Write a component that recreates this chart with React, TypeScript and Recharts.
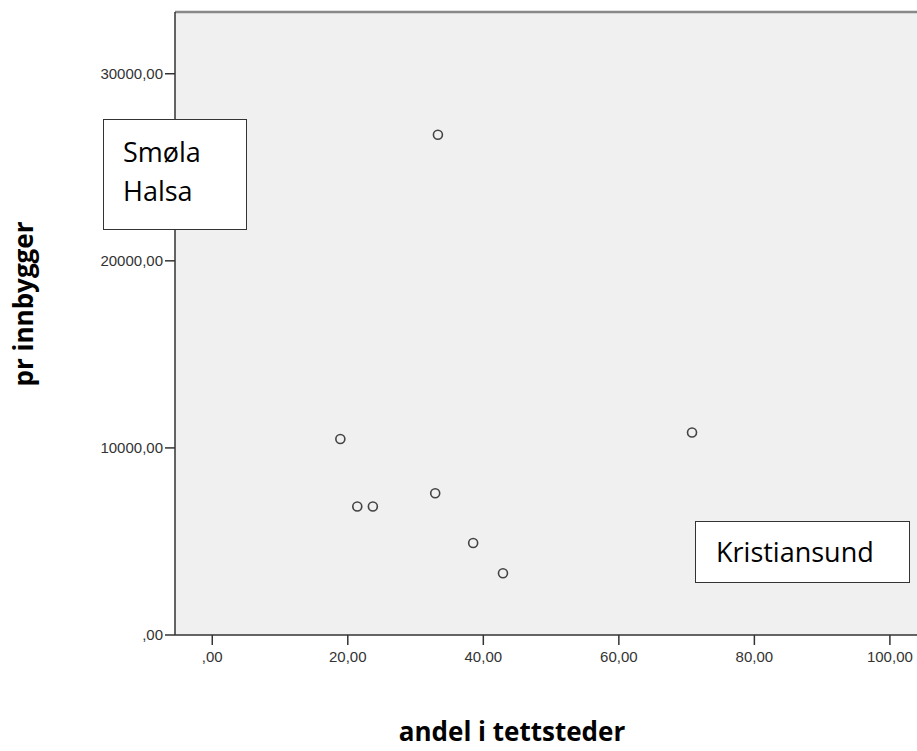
import { CartesianGrid, Label, ReferenceLine, Scatter, ScatterChart, XAxis, YAxis } from "recharts";

// andel i tettsteder (%) and pr innbygger for each kommune
const andel = [18.9, 21.4, 23.7, 32.9, 33.3, 38.5, 42.9, 70.8];
const prInnbygger = [10480, 6870, 6870, 7580, 26740, 4920, 3300, 10820];

const xTicks = [0, 20, 40, 60, 80, 100];
const yTicks = [0, 10000, 20000, 30000];

const points = andel.map((x, i) => ({ x, y: prInnbygger[i] }));

const fmt = (v: number) => (v === 0 ? ",00" : `${v},00`);

const tickStyle = { fontFamily: "Liberation Sans, Arial, sans-serif", fontSize: 15, fill: "#333" };
const titleFont = "Open Sans, sans-serif";

function Ring(props: any) {
  const { cx, cy } = props;
  return <circle cx={cx} cy={cy} r={4.5} fill="none" stroke="#444" strokeWidth={1.6} />;
}

const boxStyle: React.CSSProperties = {
  position: "absolute",
  background: "#fff",
  border: "1px solid #333",
  boxSizing: "border-box",
  fontFamily: titleFont,
  fontSize: 27,
  color: "#000",
  lineHeight: "39px",
};

export default function App() {
  return (
    <div style={{ position: "absolute", left: 0, top: 0, width: 917, height: 751 }}>
      <ScatterChart width={917} height={751} margin={{ top: 12, right: 0, bottom: 0, left: 0 }}>
        <CartesianGrid horizontal={false} vertical={false} fill="#f0f0f0" />
        <XAxis
          type="number"
          dataKey="x"
          domain={[-5.5, 104]}
          ticks={xTicks}
          tickFormatter={fmt}
          allowDataOverflow
          height={116}
          tickSize={10}
          tickMargin={6}
          tick={tickStyle}
          stroke="#333"
          strokeWidth={1.5}
        >
          <Label
            content={() => (
              <text x={512} y={741} textAnchor="middle" fontFamily={titleFont} fontWeight="bold" fontSize={26} fill="#000">
                andel i tettsteder
              </text>
            )}
          />
        </XAxis>
        <YAxis
          type="number"
          dataKey="y"
          domain={[0, 33300]}
          ticks={yTicks}
          tickFormatter={fmt}
          allowDataOverflow
          width={175}
          tickSize={10}
          tickMargin={2}
          tick={tickStyle}
          stroke="#333"
          strokeWidth={1.5}
        >
          <Label
            content={() => (
              <text
                x={33}
                y={304}
                textAnchor="middle"
                transform="rotate(-90 33 304)"
                fontFamily={titleFont}
                fontWeight="bold"
                fontSize={26}
                fill="#000"
              >
                pr innbygger
              </text>
            )}
          />
        </YAxis>
        <ReferenceLine y={33300} stroke="#888" strokeWidth={2.5} />
        <Scatter data={points} shape={Ring} isAnimationActive={false} />
      </ScatterChart>
      <div style={{ ...boxStyle, left: 103, top: 119, width: 144, height: 111, paddingLeft: 19, paddingTop: 12 }}>
        Smøla
        <br />
        Halsa
      </div>
      <div style={{ ...boxStyle, left: 695, top: 521, width: 215, height: 62, paddingLeft: 20, paddingTop: 10 }}>
        Kristiansund
      </div>
    </div>
  );
}
